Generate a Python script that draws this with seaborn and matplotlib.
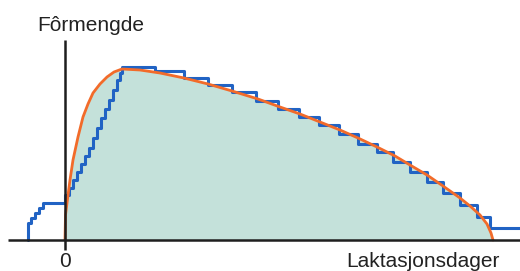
import matplotlib
matplotlib.use("Agg")
import matplotlib.pyplot as plt
import seaborn as sns
import numpy as np
import pandas as pd

# Feeding amount (blue, stepwise) — x: days relative to calving, y: amount
feed_x = [-37, -37, -34, -30, -26, -22,
          0, 4, 8, 12, 16, 20, 24, 28, 32, 36, 40, 44, 48, 52, 55, 57,
          90, 119, 143, 167, 191, 213, 234, 254, 274, 293, 312, 328, 345,
          362, 378, 395, 412, 425, 455]
feed_y = [0, 17, 22, 27, 32, 37,
          45, 52, 60, 68, 76, 84, 92, 102, 112, 122, 131, 140, 150, 160, 167, 173,
          169, 162, 155, 148, 139, 131, 123, 115, 106, 96, 88, 78, 68,
          58, 47, 35, 23, 12, 12]

# Lactation curve (orange)
lact_x = [0, 0.5, 2, 5, 8, 13, 18, 23, 28, 35, 42, 49, 57, 75, 95, 119, 143,
          167, 193, 215, 235, 255, 275, 293, 312, 330, 345, 362, 378, 395,
          405, 415, 422, 426, 428]
lact_y = [0, 25, 37, 60, 80, 103, 123, 136, 147, 156, 163, 168, 171, 170, 167,
          162, 156, 149, 141, 133, 126, 118, 110, 102, 93, 84, 75, 65, 54, 42,
          34, 25, 16, 7, 0]

y_label = "Fôrmengde"
x_label = "Laktasjonsdager"
x_tick = "0"

sns.set_theme(style="white")
plt.rcParams['font.family'] = ['Liberation Sans', 'DejaVu Sans']

fig = plt.figure(figsize=(5.2, 2.71), dpi=100)
ax = fig.add_axes([0, 0, 1, 1])
ax.set_xlim(-65, 455)
ax.set_ylim(-31, 240)
ax.axis("off")

feed = pd.DataFrame({"x": feed_x, "y": feed_y})
lact = pd.DataFrame({"x": lact_x, "y": lact_y})

ax.fill_between(lact["x"], 0, lact["y"], color="#c4e1da", lw=0, zorder=1)

sns.lineplot(data=feed, x="x", y="y", ax=ax, drawstyle="steps-post",
             color="#2163c4", lw=2.2, sort=False, estimator=None, zorder=3)
sns.lineplot(data=lact, x="x", y="y", ax=ax, color="#f26b2a", lw=2.0,
             sort=False, estimator=None, zorder=4)

# axes lines
ax.plot([-57, 455], [0, 0], color="#1e1e1e", lw=1.8, zorder=5, solid_capstyle="butt")
ax.plot([0, 0], [-10, 200], color="#1e1e1e", lw=1.8, zorder=5, solid_capstyle="butt")

ax.text(-28, 209, y_label, ha="left", va="baseline", fontsize=15, color="#222222")
ax.text(0, -27, x_tick, ha="center", va="baseline", fontsize=15, color="#222222")
ax.text(435, -27, x_label, ha="right", va="baseline", fontsize=15, color="#222222")

fig.savefig("out.png", dpi=100)
